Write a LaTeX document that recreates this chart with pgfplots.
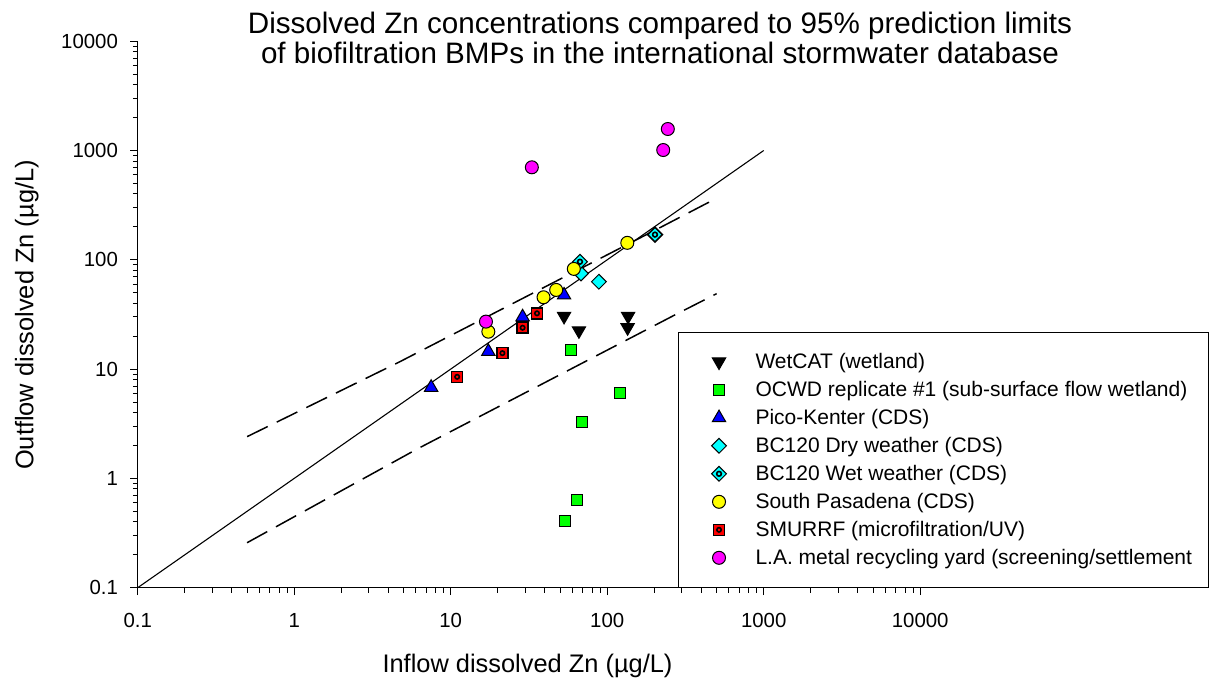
\documentclass[border=0pt]{standalone}
\usepackage{pgfplots}
\pgfplotsset{compat=1.18}
\usepackage{fontspec}
\setmainfont{Liberation Sans}

\definecolor{cgreen}{RGB}{0,255,0}
\definecolor{cblue}{RGB}{0,0,255}
\definecolor{ccyan}{RGB}{0,255,255}
\definecolor{cyellow}{RGB}{255,255,0}
\definecolor{cred}{RGB}{255,0,0}
\definecolor{cmag}{RGB}{255,0,255}

\pgfdeclareplotmark{sqdot}{%
  \pgfpathrectangle{\pgfqpoint{-\pgfplotmarksize}{-\pgfplotmarksize}}{\pgfqpoint{2\pgfplotmarksize}{2\pgfplotmarksize}}%
  \pgfusepathqfillstroke
  \pgfsetlinewidth{0.8pt}%
  \pgfpathcircle{\pgfpointorigin}{0.4\pgfplotmarksize}%
  \pgfusepathqstroke
}
\pgfdeclareplotmark{dia}{%
  \pgfpathmoveto{\pgfqpoint{0pt}{\pgfplotmarksize}}%
  \pgfpathlineto{\pgfqpoint{\pgfplotmarksize}{0pt}}%
  \pgfpathlineto{\pgfqpoint{0pt}{-\pgfplotmarksize}}%
  \pgfpathlineto{\pgfqpoint{-\pgfplotmarksize}{0pt}}%
  \pgfpathclose
  \pgfusepathqfillstroke
}
\pgfdeclareplotmark{diadot}{%
  \pgfpathmoveto{\pgfqpoint{0pt}{\pgfplotmarksize}}%
  \pgfpathlineto{\pgfqpoint{\pgfplotmarksize}{0pt}}%
  \pgfpathlineto{\pgfqpoint{0pt}{-\pgfplotmarksize}}%
  \pgfpathlineto{\pgfqpoint{-\pgfplotmarksize}{0pt}}%
  \pgfpathclose
  \pgfusepathqfillstroke
  \pgfsetlinewidth{0.8pt}%
  \pgfpathcircle{\pgfpointorigin}{0.32\pgfplotmarksize}%
  \pgfusepathqstroke
}

\begin{document}
\begin{tikzpicture}
\useasboundingbox (0,0) rectangle (612.5pt,343.5pt);
\begin{axis}[
  at={(68.85pt,49.65pt)}, anchor=south west,
  scale only axis, width=391.25pt, height=273.25pt,
  xmode=log, ymode=log,
  xmin=0.1, xmax=10000, ymin=0.1, ymax=10000,
  axis x line=bottom, axis y line=left,
  axis line style={-, line width=0.6pt, black},
  x axis line style={-}, y axis line style={-},
  tick align=outside,
  xtick={0.1,1,10,100,1000,10000},
  xticklabels={0.1,1,10,100,1000,10000},
  ytick={0.1,1,10,100,1000,10000},
  yticklabels={0.1,1,10,100,1000,10000},
  minor xtick={0.2,0.3,0.4,0.5,0.6,0.7,0.8,0.9,2,3,4,5,6,7,8,9,20,30,40,50,60,70,80,90,200,300,400,500,600,700,800,900,2000,3000,4000,5000,6000,7000,8000,9000},
  minor ytick={0.2,0.3,0.4,0.5,0.6,0.7,0.8,0.9,2,3,4,5,6,7,8,9,20,30,40,50,60,70,80,90,200,300,400,500,600,700,800,900,2000,3000,4000,5000,6000,7000,8000,9000},
  major tick length=3.7pt, minor tick length=2.4pt,
  every tick/.style={black, line width=0.5pt},
  tick label style={font=\fontsize{10.2}{12}\selectfont, inner sep=0pt},
  xticklabel style={anchor=north, yshift=-9pt},
  yticklabel style={anchor=east, xshift=-6pt},
  clip=false,
  legend cell align=left,
  legend style={at={(rel axis cs:0.6905,0)}, anchor=south west, draw=black, line width=0.5pt, fill=white,
    font=\fontsize{10.5}{12}\selectfont, inner xsep=8pt, inner ysep=8.7pt, row sep=2pt, column sep=13pt,
    nodes={inner sep=0pt, text height=9.5pt, text depth=2.5pt}, cells={anchor=west}},
  legend image code/.code={\path (-12pt,0pt) (5pt,0pt); \draw[#1] plot coordinates {(0pt,0pt)};},
]
% WetCAT (wetland)
\addplot[only marks, mark=triangle*, mark size=3.85pt, mark options={rotate=180, draw=black, fill=black, line width=0.5pt}]
  coordinates {(53,30.5) (66,22.5) (136,30.5) (135,24)};
\addlegendentry{WetCAT (wetland)}
% OCWD
\addplot[only marks, mark=square*, mark size=2.75pt, mark options={draw=black, fill=cgreen, line width=0.5pt}]
  coordinates {(58.5,15) (120,6) (69,3.3) (64,0.63) (54,0.41)};
\addlegendentry{OCWD replicate \#1 (sub-surface flow wetland)}
% Pico-Kenter
\addplot[only marks, mark=triangle*, mark size=3.85pt, mark options={draw=black, fill=cblue, line width=0.5pt}]
  coordinates {(7.5,6.8) (17.4,14.5) (28.8,30) (53,47.5)};
\addlegendentry{Pico-Kenter (CDS)}
% BC120 Dry
\addplot[only marks, mark=dia, mark size=3.7pt, mark options={draw=black, fill=ccyan, line width=0.5pt}]
  coordinates {(68,75) (88.5,63)};
\addlegendentry{BC120 Dry weather (CDS)}
% BC120 Wet
\addplot[only marks, mark=diadot, mark size=3.7pt, mark options={draw=black, fill=ccyan, line width=0.5pt}]
  coordinates {(67,96) (202,170)};
\addlegendentry{BC120 Wet weather (CDS)}
% South Pasadena
\addplot[only marks, mark=*, mark size=3.25pt, mark options={draw=black, fill=cyellow, line width=0.5pt}]
  coordinates {(17.4,22) (39.2,45.4) (47.2,53) (61.2,82.6) (134.4,143)};
\addlegendentry{South Pasadena (CDS)}
% SMURRF
\addplot[only marks, mark=sqdot, mark size=2.75pt, mark options={draw=black, fill=cred, line width=0.5pt}]
  coordinates {(11,8.5) (21.4,14) (28.8,23.9) (35.6,32.4)};
\addlegendentry{SMURRF (microfiltration/UV)}
% L.A. metal recycling yard
\addplot[only marks, mark=*, mark size=3.25pt, mark options={draw=black, fill=cmag, line width=0.5pt}]
  coordinates {(16.8,27.2) (33,702) (228,1010) (244,1573)};
\addlegendentry{L.A. metal recycling yard (screening/settlement}
% 1:1 line and prediction limits
\addplot[forget plot, black, line width=0.55pt] coordinates {(0.1,0.1) (1000,1000)};
\addplot[forget plot, black, line width=0.75pt, dash pattern=on 11.5pt off 5pt]
  coordinates {(0.5,2.41) (4.74,11.7) (228,204) (500,366)};
\addplot[forget plot, black, line width=0.75pt, dash pattern=on 11.5pt off 5pt]
  coordinates {(0.5,0.258) (6.07,1.85) (267,31) (500,49)};
\end{axis}
\node[anchor=base, font=\fontsize{14.8}{16}\selectfont] at (330pt,326.85pt) {Dissolved Zn concentrations compared to 95\% prediction limits};
\node[anchor=base, font=\fontsize{14.8}{16}\selectfont] at (330pt,311.85pt) {of biofiltration BMPs in the international stormwater database};
\node[anchor=base, font=\fontsize{12.7}{14}\selectfont] at (263.75pt,7.35pt) {Inflow dissolved Zn (µg/L)};
\node[anchor=base, rotate=90, font=\fontsize{12.7}{14}\selectfont] at (16.65pt,186pt) {Outflow dissolved Zn (µg/L)};
\end{tikzpicture}
\end{document}
